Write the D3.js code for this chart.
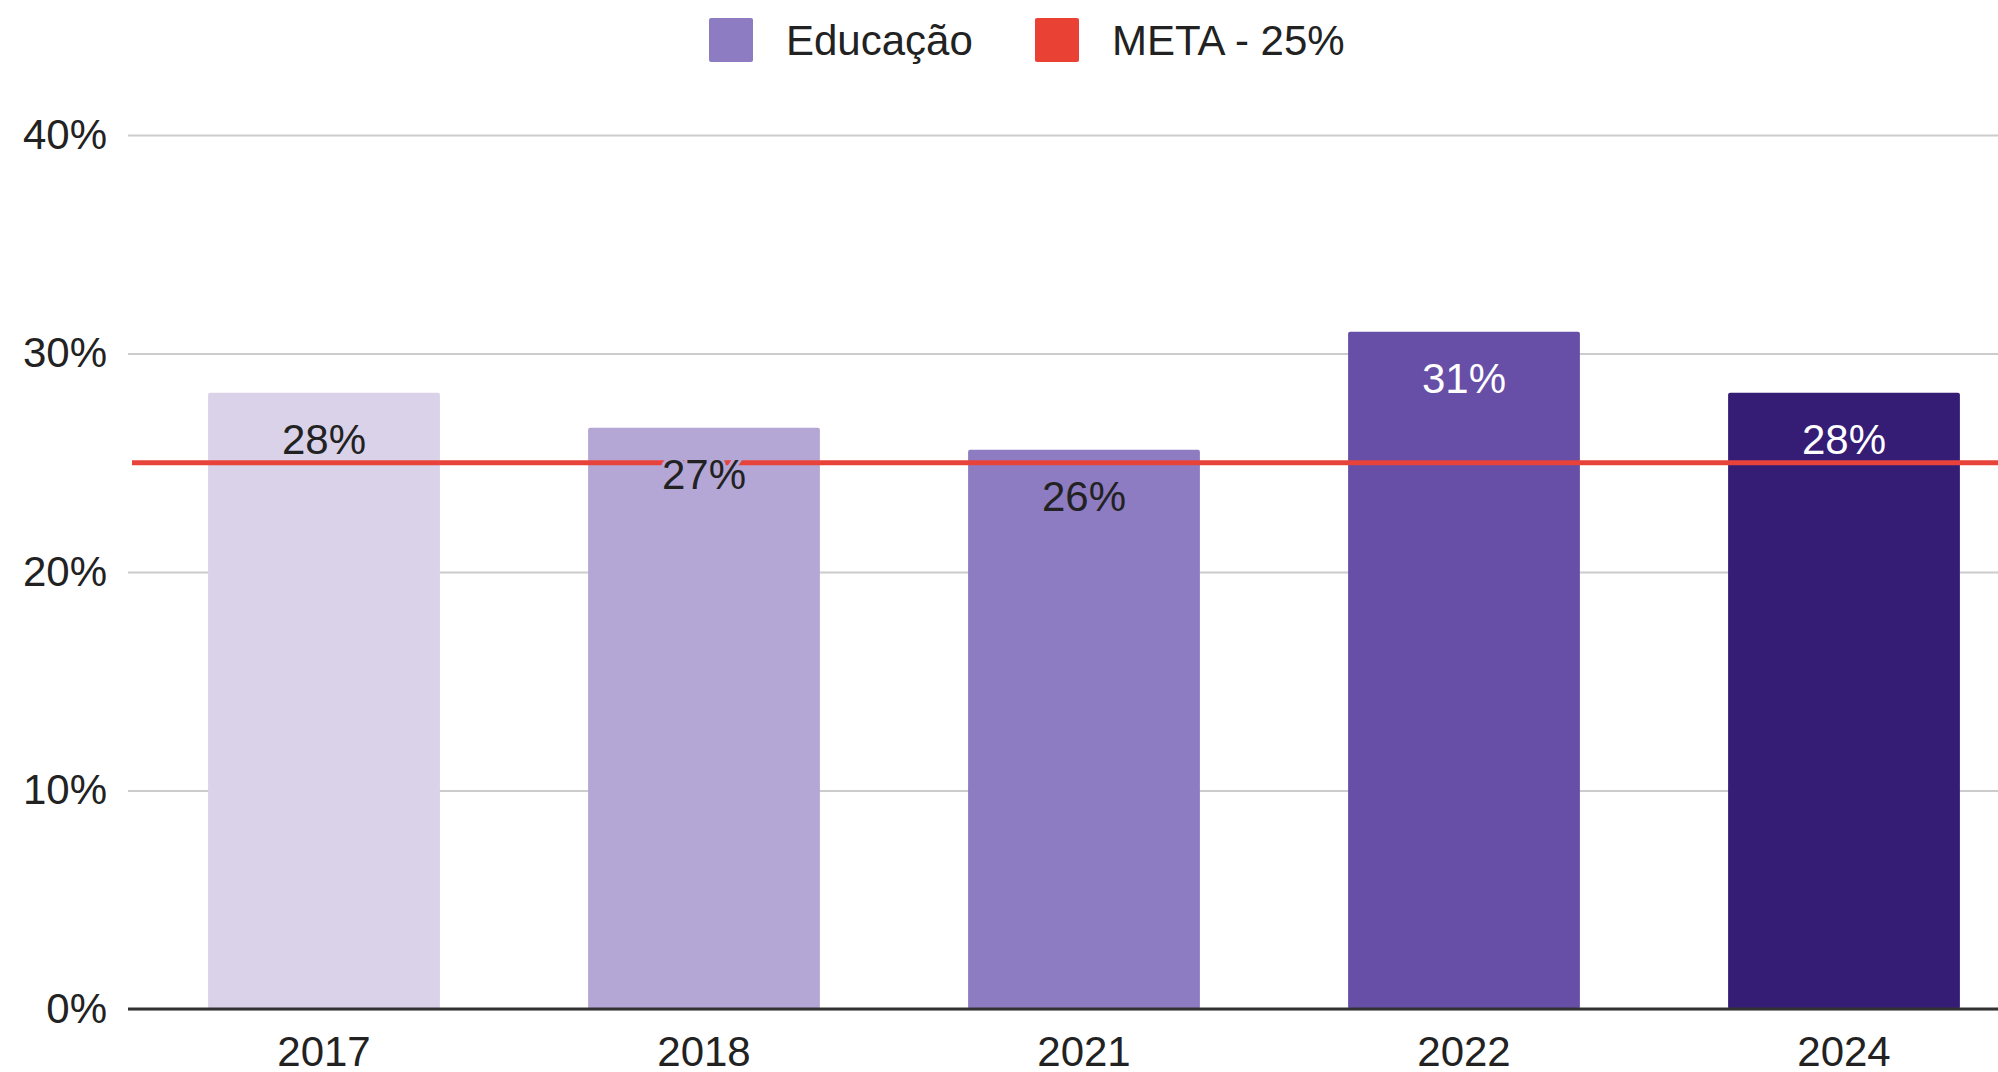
<!DOCTYPE html>
<html>
<head>
<meta charset="utf-8">
<script src="https://cdn.jsdelivr.net/npm/d3@7"></script>
<style>
  html, body { margin: 0; padding: 0; background: #fff; }
  svg { display: block; font-family: "Liberation Sans", Arial, sans-serif; }
</style>
</head>
<body>
<svg id="chart" width="1998" height="1072"></svg>
<script>
// Share of budget spent on education per year, with the 25% target
const years = ["2017", "2018", "2021", "2022", "2024"];
const educacao = [0.282, 0.266, 0.256, 0.310, 0.282];
const barColors = ["#d9d2e9", "#b4a7d6", "#8e7cc3", "#674ea7", "#351c75"];
const labelColors = ["#222", "#222", "#222", "#fff", "#fff"];
const meta = 0.25;
const yTicks = [0, 0.1, 0.2, 0.3, 0.4];
const legendItems = ["Educação", "META - 25%"];
const legendColors = ["#8e7cc3", "#e94235"];

const W = 1998, H = 1072;
const plotLeft = 128, plotBottom = 1009, plotTop = 135;
const fontSize = 42;
const svg = d3.select("#chart");

const x = d3.scaleBand()
  .domain(years)
  .range([134, 134 + 5 * 380])
  .paddingInner(0.39)
  .paddingOuter(0.195);

const y = d3.scaleLinear().domain([0, 0.4]).range([plotBottom, plotTop]);
const pct = d3.format(".0%");

// Gridlines and y tick labels
const yAxis = svg.append("g")
  .attr("transform", `translate(${plotLeft},0)`)
  .call(d3.axisLeft(y).tickValues(yTicks).tickFormat(pct).tickSize(-(W - plotLeft)).tickPadding(21));
yAxis.select(".domain").remove();
yAxis.selectAll(".tick line").attr("stroke", "#cccccc").attr("stroke-width", 2);
yAxis.selectAll(".tick text")
  .attr("fill", "#222").attr("font-size", fontSize).attr("font-family", "Liberation Sans, Arial, sans-serif");

// Bars
svg.append("g").selectAll("rect")
  .data(years)
  .join("rect")
  .attr("x", d => x(d))
  .attr("y", (d, i) => y(educacao[i]))
  .attr("width", x.bandwidth())
  .attr("height", (d, i) => plotBottom - y(educacao[i]))
  .attr("rx", 2)
  .attr("fill", (d, i) => barColors[i]);

// Baseline
svg.append("line")
  .attr("x1", plotLeft).attr("x2", W)
  .attr("y1", y(0)).attr("y2", y(0))
  .attr("stroke", "#333").attr("stroke-width", 3);

// Target line
svg.append("line")
  .attr("x1", 132).attr("x2", W)
  .attr("y1", y(meta)).attr("y2", y(meta))
  .attr("stroke", "#e8433a").attr("stroke-width", 5);

// Value labels inside the top of each bar, haloed in the bar colour
svg.append("g").selectAll("text")
  .data(years)
  .join("text")
  .attr("x", d => x(d) + x.bandwidth() / 2)
  .attr("y", (d, i) => y(educacao[i]) + 61)
  .attr("text-anchor", "middle")
  .attr("font-size", fontSize)
  .attr("fill", (d, i) => labelColors[i])
  .attr("stroke", (d, i) => barColors[i])
  .attr("stroke-width", 6)
  .attr("paint-order", "stroke")
  .text((d, i) => pct(educacao[i]));

// Category labels
const xAxis = svg.append("g")
  .attr("transform", `translate(0,${plotBottom})`)
  .call(d3.axisBottom(x).tickSize(0).tickPadding(27));
xAxis.select(".domain").remove();
xAxis.selectAll(".tick text")
  .attr("fill", "#222").attr("font-size", fontSize).attr("font-family", "Liberation Sans, Arial, sans-serif");

// Legend
const legendX = [709, 1035];
const legend = svg.append("g");
legendItems.forEach((name, i) => {
  legend.append("rect")
    .attr("x", legendX[i]).attr("y", 18)
    .attr("width", 44).attr("height", 44)
    .attr("rx", 2)
    .attr("fill", legendColors[i]);
  legend.append("text")
    .attr("x", legendX[i] + 77).attr("y", 55)
    .attr("font-size", fontSize)
    .attr("fill", "#222")
    .text(name);
});
</script>
</body>
</html>
